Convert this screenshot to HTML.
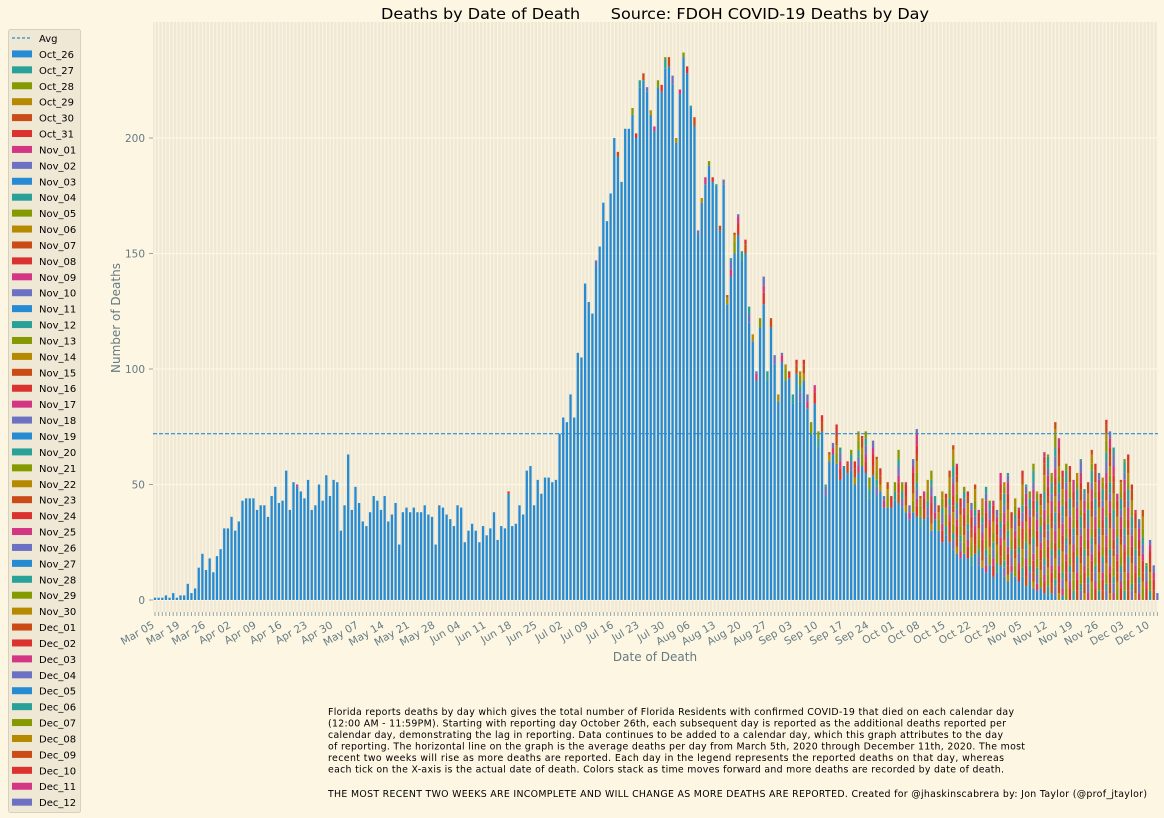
<!DOCTYPE html>
<html><head><meta charset="utf-8"><style>
body{margin:0;background:#fdf6e3;}
svg{display:block;font-family:"DejaVu Sans","Liberation Sans",sans-serif;}
</style></head><body>
<svg id="chart" width="1164" height="818" xmlns="http://www.w3.org/2000/svg">
<rect width="1164" height="818" fill="#fdf6e3"/>
<text x="381" y="19" font-size="15" textLength="548" lengthAdjust="spacingAndGlyphs" fill="#000" xml:space="preserve">Deaths by Date of Death      Source: FDOH COVID-19 Deaths by Day</text>
<g id="plot"></g>
<text x="120" y="318" font-size="12" fill="#657b83" text-anchor="middle" transform="rotate(-90 120 318)">Number of Deaths</text>
<text x="655" y="661" font-size="12" fill="#657b83" text-anchor="middle">Date of Death</text>
<g id="legend"></g>
<g font-size="9.4" fill="#000" lengthAdjust="spacingAndGlyphs">
<text x="328" y="715" textLength="686">Florida reports deaths by day which gives the total number of Florida Residents with confirmed COVID-19 that died on each calendar day</text>
<text x="328" y="726.5" textLength="678">(12:00 AM - 11:59PM). Starting with reporting day October 26th, each subsequent day is reported as the additional deaths reported per</text>
<text x="328" y="738" textLength="675">calendar day, demonstrating the lag in reporting. Data continues to be added to a calendar day, which this graph attributes to the day</text>
<text x="328" y="749.5" textLength="697">of reporting. The horizontal line on the graph is the average deaths per day from March 5th, 2020 through December 11th, 2020. The most</text>
<text x="328" y="761" textLength="676">recent two weeks will rise as more deaths are reported. Each day in the legend represents the reported deaths on that day, whereas</text>
<text x="328" y="772.5" textLength="676">each tick on the X-axis is the actual date of death. Colors stack as time moves forward and more deaths are recorded by date of death.</text>
<text x="328" y="797" textLength="819">THE MOST RECENT TWO WEEKS ARE INCOMPLETE AND WILL CHANGE AS MORE DEATHS ARE REPORTED. Created for @jhaskinscabrera by: Jon Taylor (@prof_jtaylor)</text>
</g>
</svg>
<script>
const totals = [
1,1,1,2,1,3,1,2,2,7,3,5,14,20,13,18,12,19,22,31,31,36,30,34,43,44,44,44,39,41,41,36,45,49,42,43,56,39,51,50,47,44,52,39,41,50,43,54,45,52,51,30,41,63,39,49,42,34,32,38,45,43,39,45,34,37,42,24,38,40,38,
40,38,38,41,37,36,24,41,40,37,35,32,41,40,25,30,33,30,25,32,28,31,38,26,32,31,47,32,33,41,37,56,58,41,52,46,53,53,51,52,72,79,77,89,79,
107,105,137,129,124,147,
153,172,164,176,200,194,181,204,204,213,202,225,228,222,212,205,225,223,235,235,227,200,221,237,231,214,209,160,174,183,190,183,180,162,182,132,148,159,167,151,156,127,115,99,122,140,99,122,106,89,107,102,99,89,104,
99,104,89,77,93,73,80,50,64,68,76,66,58,60,65,60,73,71,73,53,69,62,57,45,51,45,51,65,51,51,41,61,74,45,47,52,56,45,41,47,46,56,67,59,44,49,47,42,50,39,44,49,43,43,39,55,51,55,38,44,40,56,50,47,59,47,46,64,63,55,77,70,56,59,58,52,55,61,48,51,65,59,55,53,78,73,66,46,52,61,63,50,39,35,39,16,26,15,3
];
const initialReport = [
1,1,1,2,1,3,1,2,2,7,3,5,14,20,13,18,12,19,22,31,31,36,30,34,43,44,44,44,39,41,41,36,45,49,42,43,56,39,51,49,47,44,52,39,41,50,43,54,45,52,51,30,41,63,39,49,42,34,32,38,45,43,39,45,34,37,42,24,38,40,38,
40,38,38,41,37,36,24,41,40,37,35,32,41,40,25,30,33,30,25,32,28,31,38,26,32,31,46,32,33,41,37,56,58,41,52,46,53,53,51,52,72,79,77,89,79,
107,105,137,129,124,145,
153,172,164,176,200,192,181,204,204,210,200,222,225,220,210,203,222,220,230,231,223,198,219,235,228,213,205,158,172,180,188,181,179,160,180,128,140,150,158,147,150,120,112,95,118,128,95,118,102,86,103,95,96,85,98,
86,95,83,72,85,66,73,45,60,63,59,52,58,55,56,50,55,58,55,44,54,45,47,40,40,40,43,42,40,38,35,38,36,32,35,36,30,35,30,25,28,25,22,20,18,20,18,15,20,15,14,12,15,10,12,15,10,8,12,10,8,10,6,8,5,4,5,3,2,3,2,0,2,0,0,0,0,0,0,0,0,0,0,0,0,0,0,0,0,0,0,0,0,0,0,0,0,0,0,0
];
const tickLabels = ["Mar 05","Mar 19","Mar 26","Apr 02","Apr 09","Apr 16","Apr 23","Apr 30","May 07","May 14","May 21","May 28","Jun 04","Jun 11","Jun 18","Jun 25","Jul 02","Jul 09","Jul 16","Jul 23","Jul 30","Aug 06","Aug 13","Aug 20","Aug 27","Sep 03","Sep 10","Sep 17","Sep 24","Oct 01","Oct 08","Oct 15","Oct 22","Oct 29","Nov 05","Nov 12","Nov 19","Nov 26","Dec 03","Dec 10"];
const yTicks = [0,50,100,150,200];
const avgValue = 72;
const legendLabels = ["Oct_26","Oct_27","Oct_28","Oct_29","Oct_30","Oct_31","Nov_01","Nov_02","Nov_03","Nov_04","Nov_05","Nov_06","Nov_07","Nov_08","Nov_09","Nov_10","Nov_11","Nov_12","Nov_13","Nov_14","Nov_15","Nov_16","Nov_17","Nov_18","Nov_19","Nov_20","Nov_21","Nov_22","Nov_23","Nov_24","Nov_25","Nov_26","Nov_27","Nov_28","Nov_29","Nov_30","Dec_01","Dec_02","Dec_03","Dec_04","Dec_05","Dec_06","Dec_07","Dec_08","Dec_09","Dec_10","Dec_11","Dec_12"];

const palette = ["#268bd2","#2aa198","#859900","#b58900","#cb4b16","#dc322f","#d33682","#6c71c4"];
const NS = "http://www.w3.org/2000/svg";
const AX = {l:153, r:1158, t:22, b:612};
const step = 3.645, x0 = 155;
function xPos(i){ return x0 + i*step; }
function yPos(v){ return 600 - v*2.31; }
function mk(tag, attrs, parent){ const e=document.createElementNS(NS,tag); for(const k in attrs) e.setAttribute(k,attrs[k]); parent.appendChild(e); return e; }

const plot = document.getElementById('plot');
const bg = mk('rect',{x:AX.l,y:AX.t,width:AX.r-AX.l,height:AX.b-AX.t,fill:"#efe8d4"},plot);


for(let i=0;i<totals.length;i++){
  const g = mk('line',{x1:xPos(i),x2:xPos(i),y1:AX.t,y2:AX.b,stroke:"#fbf4e1","stroke-width":1.3},plot);
  
  
}
yTicks.forEach(v=>{
  const g = mk('line',{x1:AX.l,x2:AX.r,y1:yPos(v),y2:yPos(v),stroke:"#fdf6e3","stroke-width":1.3},plot);
  
  
  const tk = mk('line',{x1:AX.l-4,x2:AX.l,y1:yPos(v),y2:yPos(v),stroke:"#93a1a1","stroke-width":1},plot);
  
  
  const t = mk('text',{x:AX.l-8,y:yPos(v)+4,"font-size":10.5,fill:"#657b83","text-anchor":"end"},plot);
  t.textContent = v;
  
  
});
const bw = 2.3;
for(let i=0;i<totals.length;i++){
  const tot = totals[i];
  const base = Math.min(initialReport[i], tot);
  if(base>0){
    const r = mk('rect',{x:xPos(i)-bw/2,y:yPos(base),width:bw,height:yPos(0)-yPos(base),fill:palette[0]},plot);
    
    
  }
  let rem = tot - base, cur = base, ci = 1 + (i*3)%7;
  while(rem>0){
    const h = Math.min(rem, 3 + (ci%3));
    const r = mk('rect',{x:xPos(i)-bw/2,y:yPos(cur+h),width:bw,height:yPos(cur)-yPos(cur+h),fill:palette[ci%8]},plot);
    
    
    cur += h; rem -= h; ci++;
    if(ci%8===0) ci++;
  }
  const tk = mk('line',{x1:xPos(i),x2:xPos(i),y1:AX.b,y2:AX.b+4,stroke:"#93a1a1","stroke-width":1},plot);
  
  
}
const avg = mk('line',{x1:AX.l,x2:AX.r,y1:yPos(avgValue),y2:yPos(avgValue),stroke:"#268bd2","stroke-width":1.2,"stroke-dasharray":"4,2"},plot);


tickLabels.forEach((lab,k)=>{
  const x = xPos(k*7), y = 627;
  const t = mk('text',{x:x,y:y,"font-size":10.5,fill:"#657b83","text-anchor":"end",transform:`rotate(-30 ${x} ${y})`},plot);
  t.textContent = lab;
  
  
});
const leg = document.getElementById('legend');
const lb = mk('rect',{x:8.5,y:29.5,width:72,height:783,rx:2,fill:"#eee8d5",stroke:"#d6d0bd","stroke-width":1},leg);


const ly0 = 38, ldy = 15.92;
const al = mk('line',{x1:12,x2:32,y1:ly0,y2:ly0,stroke:"#268bd2","stroke-width":1.2,"stroke-dasharray":"3,2"},leg);


const at = mk('text',{x:39,y:ly0+4,"font-size":10,fill:"#000"},leg);
at.textContent = "Avg";


legendLabels.forEach((lab,k)=>{
  const y = ly0 + (k+1)*ldy;
  const p = mk('rect',{x:12,y:y-3.5,width:20,height:7,fill:palette[k%8]},leg);
  
  
  const t = mk('text',{x:39,y:y+4,"font-size":10,fill:"#000"},leg);
  t.textContent = lab;
  
  
});
</script>
</body></html>
